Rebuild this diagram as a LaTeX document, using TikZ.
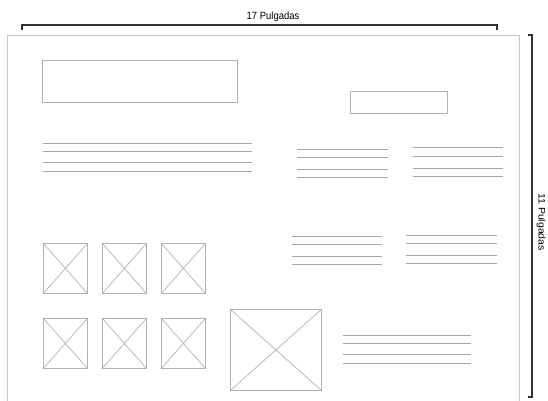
\documentclass[tikz,border=0pt]{standalone}
\usepackage{fontspec}
\setmainfont{Liberation Sans}
\usetikzlibrary{positioning}

\begin{document}
\begin{tikzpicture}[
    x=1pt, y=-1pt,
    page/.style={draw=black!22, line width=0.9pt},
    block/.style={rectangle, draw=black!30, line width=0.8pt, inner sep=0pt, anchor=north west},
    photo/.style={block, minimum width=44pt, minimum height=50pt},
    textline/.style={draw=black!35, line width=0.7pt},
    measure/.style={draw=black!80, line width=1.1pt},
    dimlabel/.style={font=\fontsize{10.5}{11}\selectfont, inner sep=1pt, xscale=0.9}
]
    \useasboundingbox (0,0) rectangle (548,400);
    % sheet
    \draw[page] (7,404) -- (7,35) -- (519,35) -- (519,404);
    % dimensions
    \coordinate (wl) at (22,25);
    \coordinate (wr) at (497,25);
    \coordinate (ht) at (532,35);
    \coordinate (hb) at (532,397);
    \draw[measure] ([yshift=-5pt]wl) -- (wl) -- (wr) -- ([yshift=-5pt]wr);
    \draw[measure] ([xshift=-4pt]ht) -- (ht) -- (hb) -- ([xshift=-4pt]hb);
    \node (width) [dimlabel] at (273,17) {17 Pulgadas};
    \node (height) [dimlabel, rotate=-90] at (541,222) {11 Pulgadas};
    % header blocks
    \node (title) [block, minimum width=195pt, minimum height=42pt] at (42,60) {};
    \node (logo) [block, minimum width=97pt, minimum height=22pt] at (350,91) {};
    % text columns
    \foreach \y in {143,151,162,171} \draw[textline] (43,\y) -- (252,\y);
    \foreach \y in {149,157,169,177} \draw[textline] (297,\y) -- (388,\y);
    \foreach \y in {147,156,168,176} \draw[textline] (413,\y) -- (503,\y);
    \foreach \y in {236,244,256,264} \draw[textline] (292,\y) -- (382,\y);
    \foreach \y in {235,243,255,263} \draw[textline] (406,\y) -- (497,\y);
    \foreach \y in {335,343,354,363} \draw[textline] (343,\y) -- (471,\y);
    % photos
    \foreach \px [count=\i] in {43,102,161} {
        \node (pa\i) [photo] at (\px,243) {};
        \node (pb\i) [photo] at (\px,318) {};
        \draw[textline, draw=black!30] (pa\i.north west) -- (pa\i.south east) (pa\i.north east) -- (pa\i.south west);
        \draw[textline, draw=black!30] (pb\i.north west) -- (pb\i.south east) (pb\i.north east) -- (pb\i.south west);
    }
    \node (main) [block, minimum width=91pt, minimum height=81pt] at (230,309) {};
    \draw[textline, draw=black!30] (main.north west) -- (main.south east) (main.north east) -- (main.south west);
\end{tikzpicture}
\end{document}
